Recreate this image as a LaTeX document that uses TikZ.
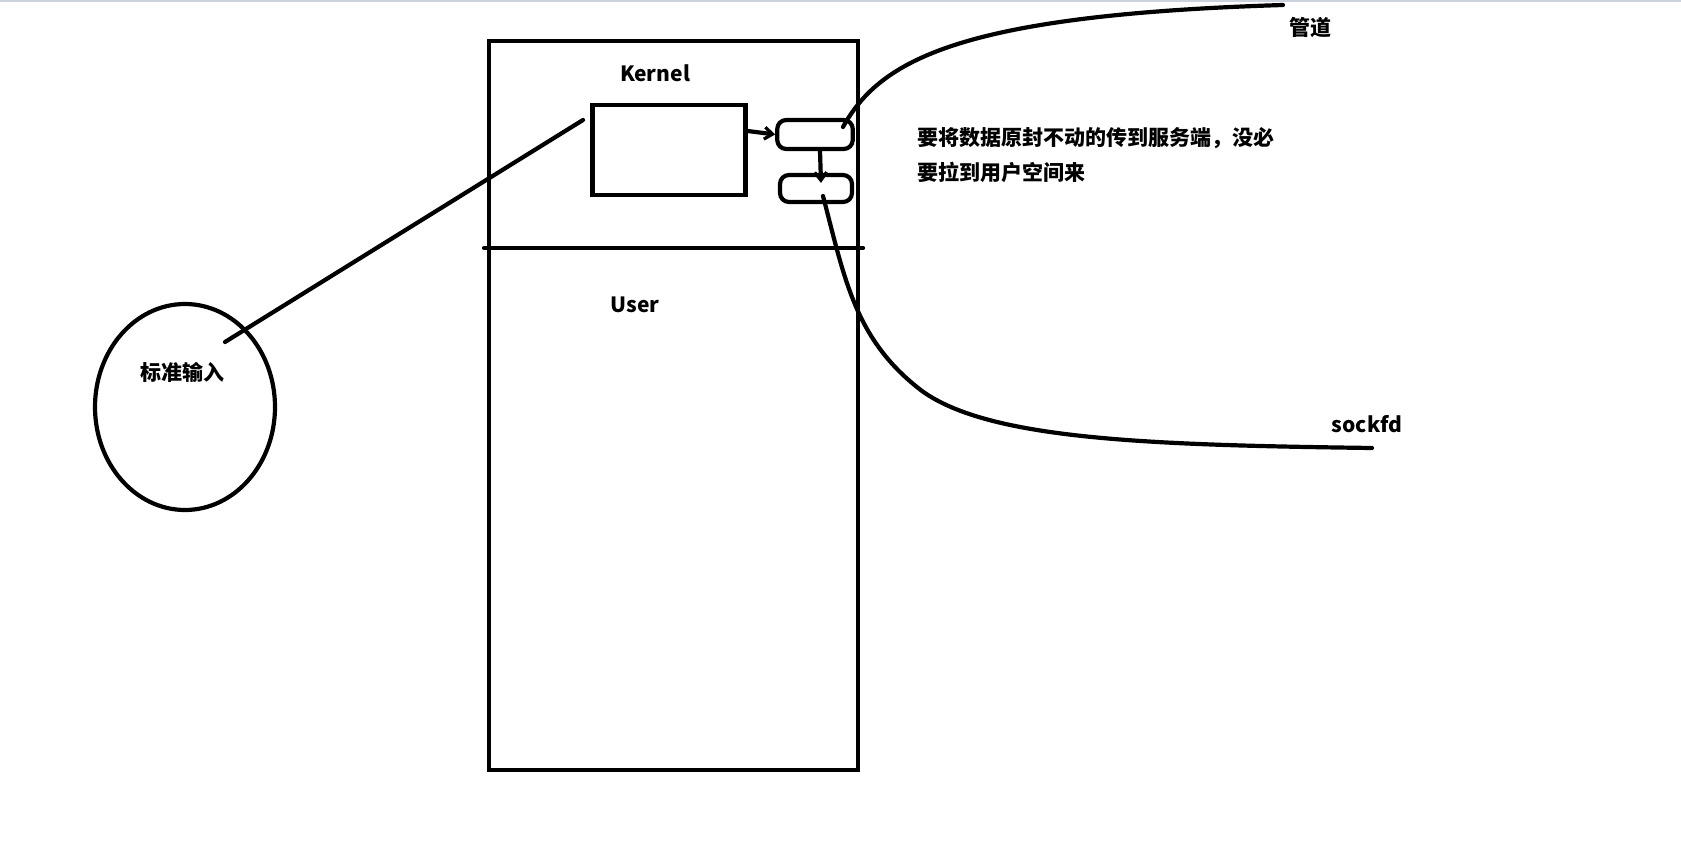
\documentclass[tikz,border=0pt]{standalone}
\usepackage{fontspec}
\setmainfont{Noto Sans CJK SC}
\usetikzlibrary{shapes.geometric,arrows.meta}
\definecolor{topline}{HTML}{C9D2DE}
\tikzset{
  ink/.style={draw=black, line width=2.1pt},
  box/.style={ink, rectangle, inner sep=0pt},
  smallbox/.style={ink, rectangle, rounded corners=4.5pt, inner sep=0pt},
  lbl/.style={font=\fontsize{10.5pt}{12pt}\selectfont\bfseries, inner sep=0pt},
  pen/.style={draw=black, line width=2.1pt, line cap=round},
  arr/.style={pen, -{Straight Barb[length=4pt,width=6pt,line width=1.6pt]}}
}
\begin{document}
\begin{tikzpicture}[x=0.5pt,y=-0.5pt]
\useasboundingbox (0,0) rectangle (1681,844);
\fill[topline] (0,0) rectangle (1681,2);
% big frame
\draw[ink] (489,41) rectangle (858,770);
\coordinate (divL) at (484,248);
\coordinate (divR) at (863,248);
\draw[pen] (divL) -- (divR);
% labels
\node[lbl, anchor=base] (kernel) at (655,82) {Kernel};
\node[lbl, anchor=base] (user) at (635,313) {User};
% inner boxes
\node[box, minimum width=76.5pt, minimum height=45pt] (inner) at (669,150) {};
\node[smallbox, minimum width=37.75pt, minimum height=14.5pt] (b1) at (815,134.5) {};
\node[smallbox, minimum width=36pt, minimum height=13.5pt] (b2) at (816,188.5) {};
\draw[arr] ([yshift=9.5pt]inner.east) -- (b1.west);
\draw[arr] ([xshift=2.5pt]b1.south) -- ([xshift=2.5pt,yshift=-5pt]b2.north);
% stdin ellipse
\node[ink, ellipse, inner sep=0pt, minimum width=90pt, minimum height=103pt] (stdin) at (185,407) {};
\node[lbl, anchor=base] (stdinlbl) at (182,381) {标准输入};
\coordinate (s1) at (225,342);
\coordinate (s2) at (583,120);
\draw[pen] (s1) -- (s2);
% pipe curve
\coordinate (p0) at (843,127);
\coordinate (p1) at (1283,5);
\draw[pen] (p0) .. controls (880,60) and (960,15) .. (p1);
\node[lbl, anchor=base] (pipe) at (1310,36) {管道};
% sockfd curve
\coordinate (q0) at (823,196);
\coordinate (qm) at (922,391);
\coordinate (q1) at (1372,448);
\draw[pen] (q0) .. controls (845,280) and (855,340) .. (qm) .. controls (990,440) and (1150,445) .. (q1);
\node[lbl, anchor=base] (sock) at (1367,433) {sockfd};
% annotation
\node[lbl, anchor=base west] (note1) at (917,146) {要将数据原封不动的传到服务端，没必};
\node[lbl, anchor=base west] (note2) at (917,181) {要拉到用户空间来};
\end{tikzpicture}
\end{document}
